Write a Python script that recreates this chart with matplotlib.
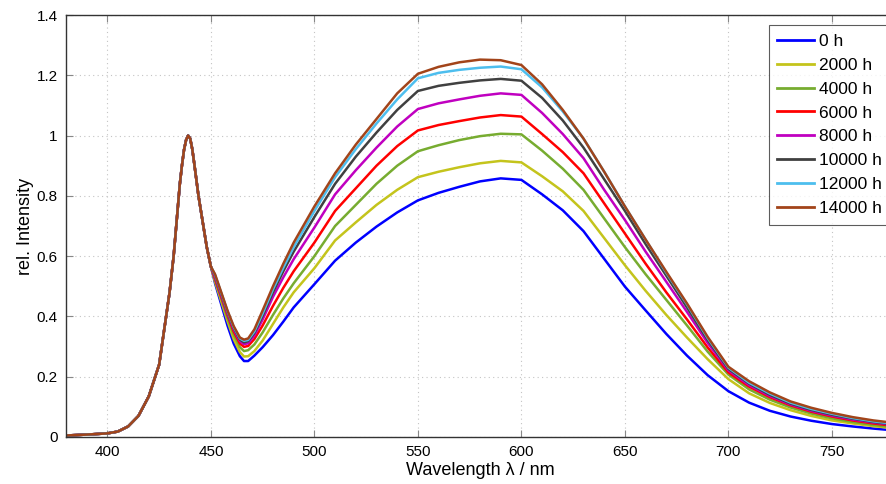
import matplotlib
matplotlib.use("Agg")
import matplotlib.pyplot as plt
import numpy as np

plt.rcParams['font.family'] = ['Liberation Sans', 'DejaVu Sans']

# blue LED peak region, identical for all aging times
wl_peak = [380, 390, 400, 405, 410, 415, 420, 425, 430, 432, 433, 434, 435, 436, 437,
           438, 439, 440, 441, 442, 444, 446, 448, 450]
int_peak = [0.005, 0.008, 0.012, 0.018, 0.035, 0.07, 0.135, 0.24, 0.478, 0.6, 0.68, 0.76,
            0.84, 0.9, 0.952, 0.985, 1.0, 0.99, 0.955, 0.905, 0.8, 0.715, 0.63, 0.565]

# phosphor region, one list per aging time
wl_conv = [452, 455, 458, 461, 464, 466, 468, 471, 475, 480, 485, 490, 500, 510, 520, 530,
           540, 550, 560, 570, 580, 590, 600, 610, 620, 630, 640, 650, 660, 670, 680, 690,
           700, 710, 720, 730, 740, 750, 760, 770, 780]

int_0h = [0.51, 0.44, 0.37, 0.31, 0.268, 0.252, 0.252, 0.27, 0.298, 0.338, 0.383, 0.43,
          0.507, 0.585, 0.645, 0.698, 0.745, 0.785, 0.81, 0.83, 0.848, 0.858, 0.853, 0.805,
          0.752, 0.683, 0.591, 0.499, 0.42, 0.342, 0.27, 0.205, 0.152, 0.114, 0.087, 0.068,
          0.054, 0.043, 0.035, 0.028, 0.022]
int_2000h = [0.515, 0.45, 0.385, 0.325, 0.282, 0.267, 0.268, 0.285, 0.32, 0.375, 0.43, 0.48,
             0.56, 0.652, 0.712, 0.77, 0.82, 0.862, 0.88, 0.895, 0.908, 0.916, 0.911, 0.865,
             0.815, 0.75, 0.66, 0.57, 0.485, 0.405, 0.33, 0.258, 0.192, 0.145, 0.113, 0.089,
             0.07, 0.055, 0.045, 0.036, 0.029]
int_4000h = [0.52, 0.46, 0.395, 0.34, 0.298, 0.285, 0.288, 0.307, 0.347, 0.405, 0.46, 0.51,
             0.6, 0.7, 0.77, 0.84, 0.9, 0.948, 0.968, 0.985, 0.998, 1.006, 1.004, 0.95,
             0.89, 0.82, 0.725, 0.63, 0.54, 0.455, 0.37, 0.283, 0.207, 0.158, 0.124, 0.098,
             0.078, 0.062, 0.05, 0.04, 0.032]
int_6000h = [0.525, 0.465, 0.405, 0.35, 0.31, 0.299, 0.302, 0.325, 0.37, 0.435, 0.495, 0.55,
             0.645, 0.75, 0.825, 0.9, 0.965, 1.017, 1.035, 1.048, 1.06, 1.068, 1.063, 1.005,
             0.945, 0.875, 0.775, 0.675, 0.575, 0.48, 0.39, 0.297, 0.214, 0.167, 0.132, 0.105,
             0.084, 0.068, 0.055, 0.045, 0.037]
int_8000h = [0.53, 0.47, 0.41, 0.357, 0.318, 0.308, 0.311, 0.337, 0.39, 0.465, 0.53, 0.59,
             0.695, 0.805, 0.885, 0.96, 1.03, 1.088, 1.107, 1.12, 1.132, 1.14, 1.135, 1.075,
             1.005, 0.925, 0.82, 0.72, 0.615, 0.515, 0.415, 0.312, 0.221, 0.172, 0.136, 0.108,
             0.087, 0.071, 0.058, 0.048, 0.04]
int_10000h = [0.535, 0.475, 0.415, 0.362, 0.323, 0.314, 0.318, 0.345, 0.402, 0.48, 0.55, 0.615,
              0.73, 0.84, 0.93, 1.01, 1.085, 1.148, 1.165, 1.175, 1.183, 1.188, 1.182, 1.125,
              1.05, 0.96, 0.855, 0.75, 0.64, 0.535, 0.43, 0.322, 0.226, 0.177, 0.14, 0.111,
              0.09, 0.074, 0.061, 0.05, 0.042]
int_12000h = [0.538, 0.478, 0.418, 0.365, 0.327, 0.319, 0.322, 0.35, 0.41, 0.49, 0.562, 0.63,
              0.75, 0.862, 0.955, 1.04, 1.12, 1.19, 1.208, 1.218, 1.225, 1.229, 1.22, 1.16,
              1.08, 0.99, 0.88, 0.765, 0.655, 0.545, 0.44, 0.328, 0.23, 0.18, 0.144, 0.114,
              0.093, 0.077, 0.063, 0.052, 0.044]
int_14000h = [0.54, 0.48, 0.42, 0.368, 0.33, 0.323, 0.327, 0.357, 0.42, 0.5, 0.575, 0.645,
              0.765, 0.875, 0.97, 1.055, 1.14, 1.205, 1.228, 1.243, 1.252, 1.25, 1.234, 1.17,
              1.085, 0.99, 0.88, 0.765, 0.655, 0.548, 0.443, 0.332, 0.233, 0.185, 0.148, 0.118,
              0.097, 0.08, 0.066, 0.055, 0.047]

labels = ['0 h', '2000 h', '4000 h', '6000 h', '8000 h', '10000 h', '12000 h', '14000 h']
series = [int_0h, int_2000h, int_4000h, int_6000h, int_8000h, int_10000h, int_12000h, int_14000h]
colors = ['#0000ff', '#c4c41c', '#77ac30', '#ff0000', '#c000c0', '#404040', '#4dbeee', '#a2441a']

x_ticks = [400, 450, 500, 550, 600, 650, 700, 750]
y_ticks = [0, 0.2, 0.4, 0.6, 0.8, 1.0, 1.2, 1.4]
y_ticklabels = ['0', '0.2', '0.4', '0.6', '0.8', '1', '1.2', '1.4']

fig = plt.figure(figsize=(8.86, 4.84), dpi=100)
ax = fig.add_axes([66 / 886, 47 / 484, 828 / 886, 422 / 484])

wl = np.array(wl_peak + wl_conv)
for vals, lab, col in zip(series, labels, colors):
    ax.plot(wl, int_peak + vals, color=col, lw=1.8, label=lab)

ax.set_xlim(380, 780)
ax.set_ylim(0, 1.4)
ax.set_xticks(x_ticks)
ax.set_yticks(y_ticks)
ax.set_yticklabels(y_ticklabels)
ax.tick_params(direction='in', length=5, width=0.8, color='#888888', labelsize=11,
               top=True, right=True, pad=6)
ax.grid(True, linestyle=(0, (1, 3)), color='#c4c4c4', linewidth=0.8)
for sp in ax.spines.values():
    sp.set_color('#333333')
    sp.set_linewidth(1.0)

ax.set_xlabel('Wavelength λ / nm', fontsize=13, labelpad=2)
ax.set_ylabel('rel. Intensity', fontsize=13, labelpad=2)

leg = ax.legend(loc='upper right', bbox_to_anchor=(1.0, 0.984), fontsize=12.5,
                frameon=True, fancybox=False, handlelength=2.1, handletextpad=0.3,
                labelspacing=0.5, borderpad=0.5, borderaxespad=0.2)
leg.get_frame().set_edgecolor('#333333')
leg.get_frame().set_linewidth(0.8)
for line in leg.get_lines():
    line.set_linewidth(2)

fig.savefig('out.png', dpi=100)
